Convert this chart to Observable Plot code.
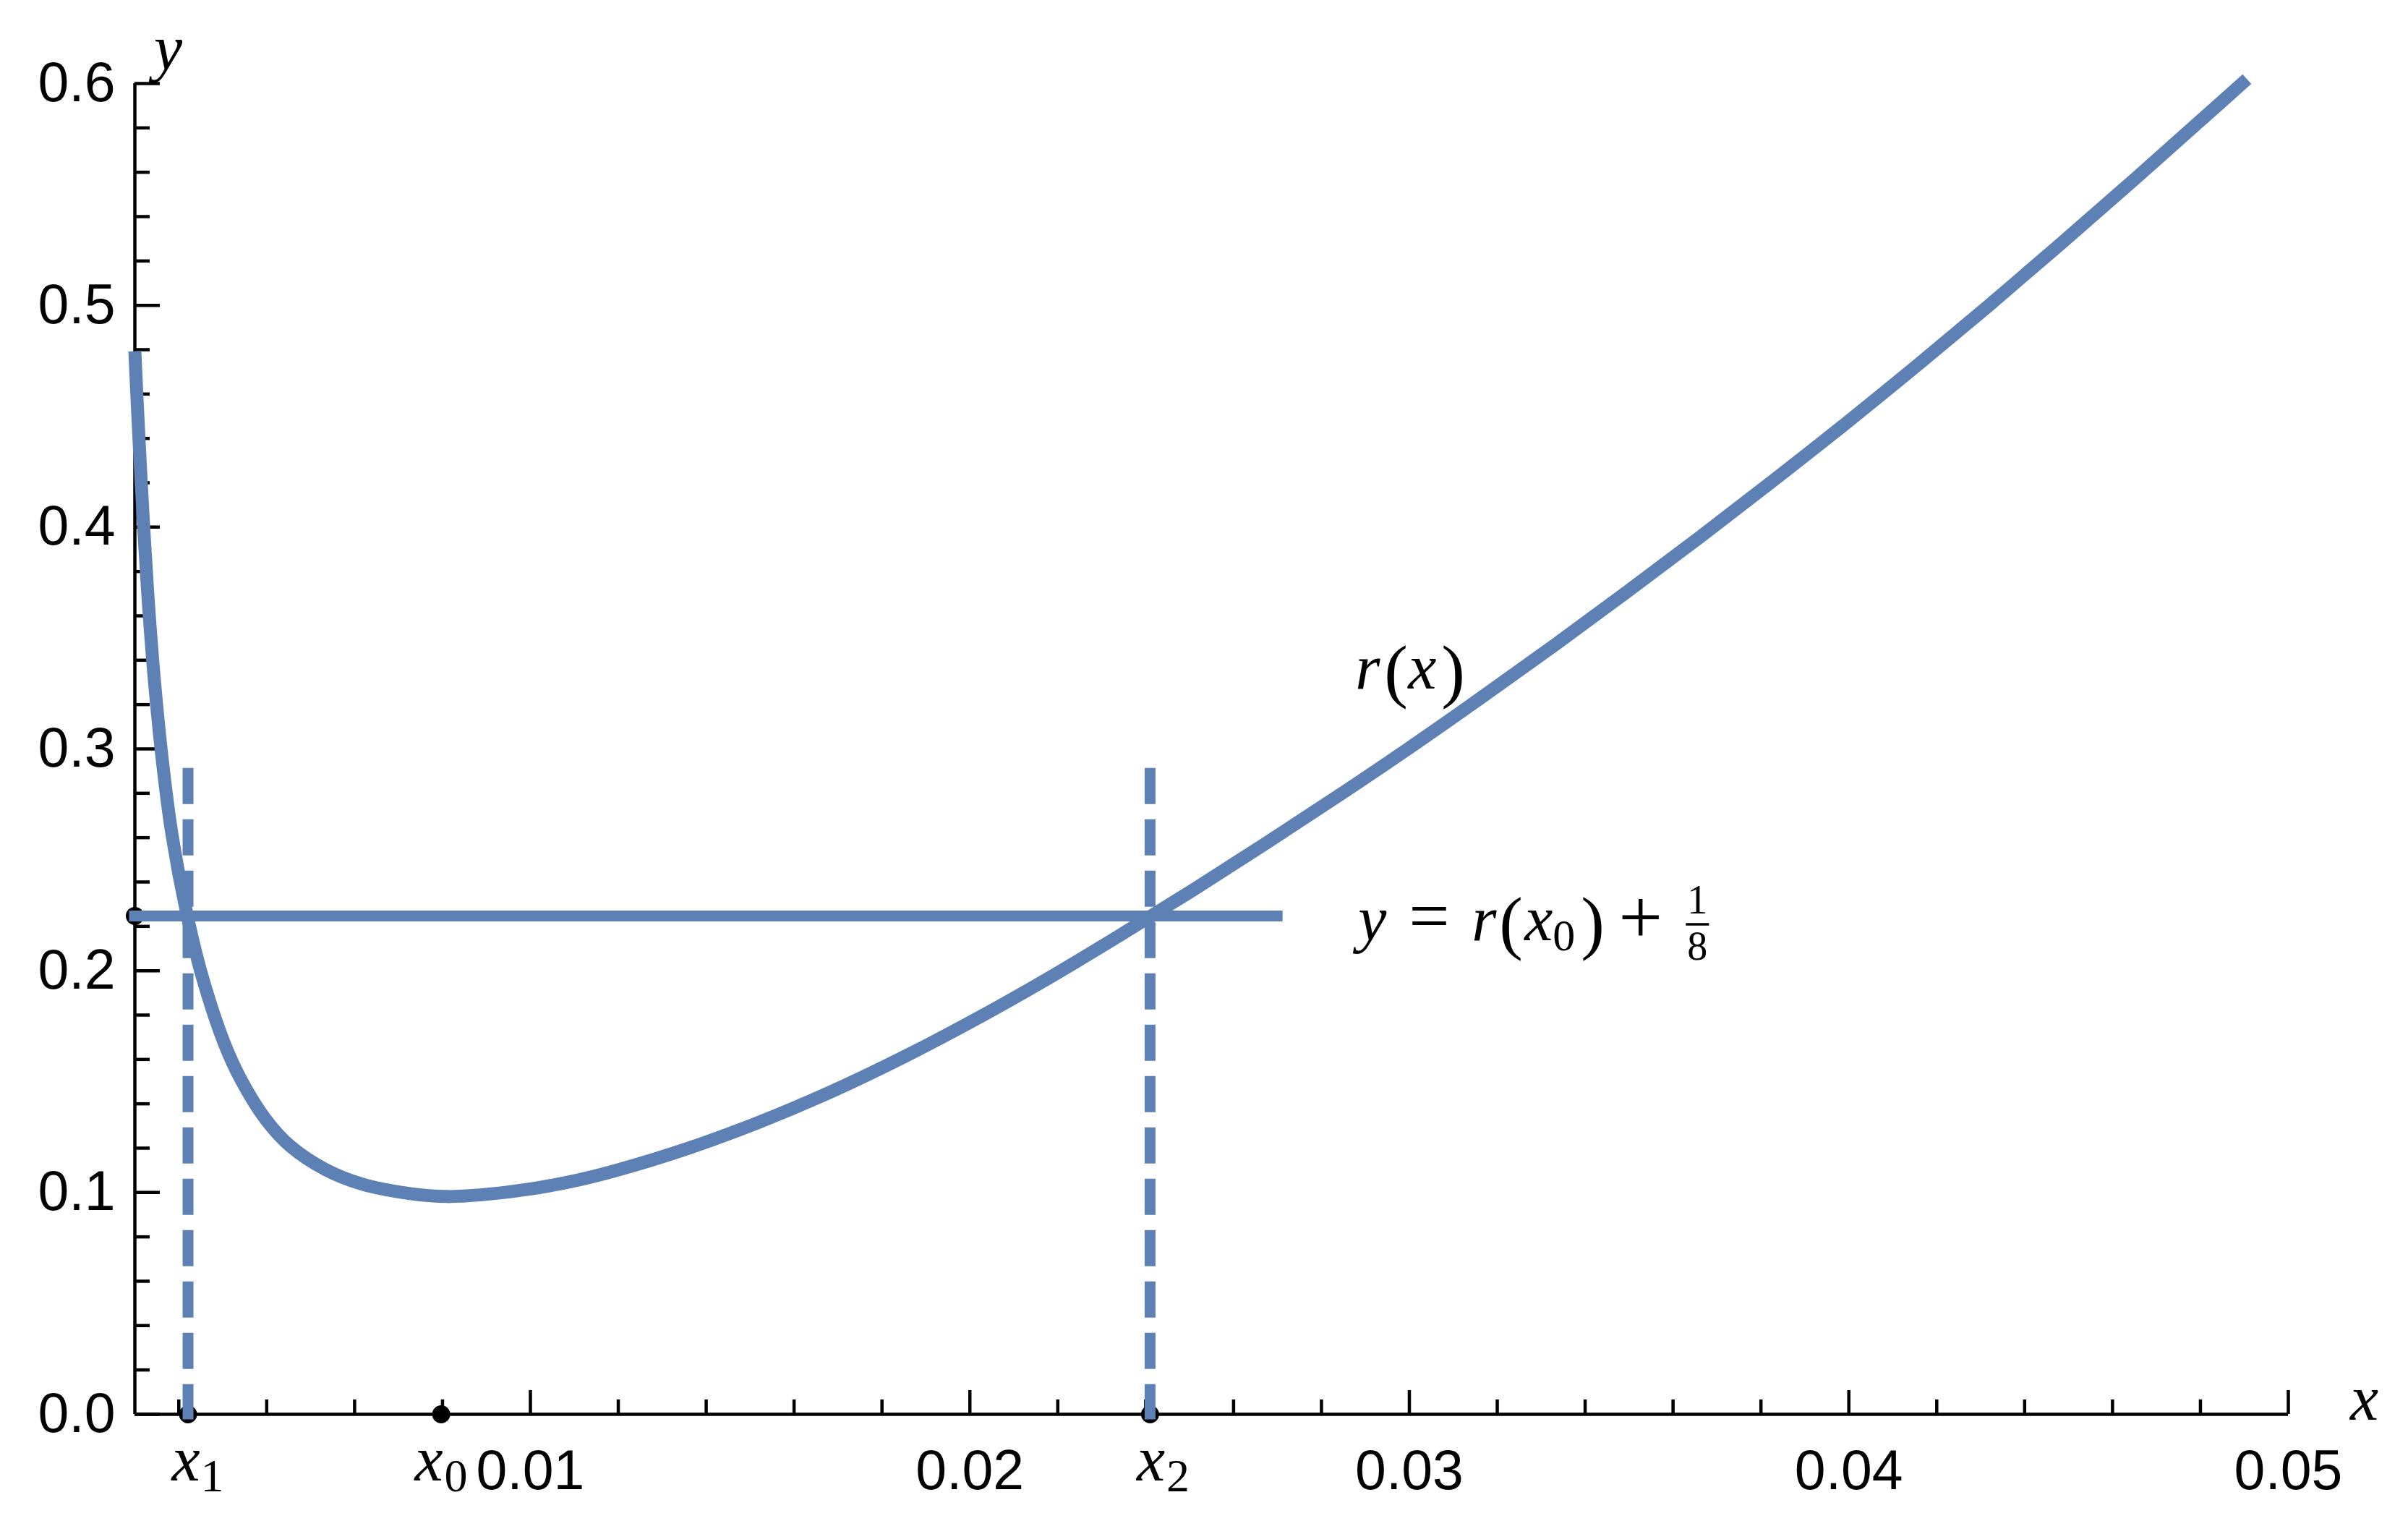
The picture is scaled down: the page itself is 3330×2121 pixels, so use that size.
<!DOCTYPE html>
<html>
<head>
<meta charset="utf-8">
<script src="https://cdn.jsdelivr.net/npm/d3@7"></script>
<script src="https://cdn.jsdelivr.net/npm/@observablehq/plot@0.6"></script>
<style>
  html, body { margin: 0; padding: 0; background: #ffffff; }
  svg { display: block; }
</style>
</head>
<body>
<div id="chart"></div>
<script>
// ---------------- data ----------------
const curveX = [0.0010000, 0.0010494, 0.0011448, 0.0012221, 0.0013274, 0.0014541, 0.0016236,
  0.0018358, 0.0021928, 0.0025301, 0.0030402, 0.0034235, 0.0039730, 0.0045209, 0.0053435,
  0.0061661, 0.0072635, 0.0080862, 0.0089089, 0.0100047, 0.0111021, 0.0119247, 0.0135700,
  0.0152152, 0.0168605, 0.0185058, 0.0201510, 0.0217963, 0.0234416, 0.0250869, 0.0267321,
  0.0283774, 0.0300227, 0.0316680, 0.0333133, 0.0349585, 0.0366038, 0.0382491, 0.0398944,
  0.0415396, 0.0431849, 0.0448302, 0.0464755, 0.0481207, 0.0490586];
const curveY = [0.4793, 0.4578, 0.4201, 0.3929, 0.3603, 0.3288, 0.2951,
  0.2625, 0.2247, 0.1975, 0.1670, 0.1506, 0.1331, 0.1212, 0.1103,
  0.1038, 0.0995, 0.0982, 0.0990, 0.1016, 0.1057, 0.1098, 0.1198,
  0.1318, 0.1456, 0.1612, 0.1783, 0.1967, 0.2163, 0.2365, 0.2574,
  0.2788, 0.3008, 0.3236, 0.3469, 0.3709, 0.3954, 0.4205, 0.4462,
  0.4727, 0.4999, 0.5279, 0.5564, 0.5854, 0.6020];

const xMin = 0.001;          // left end of the x axis
const xMax = 0.05;
const yMax = 0.6;
const x0 = 0.00797;          // location of the minimum
const x1 = 0.00221;          // left crossing
const x2 = 0.02410;          // right crossing
const level = 0.2247;        // y = r(x0) + 1/8
const levelEnd = 0.0270;     // right end of the horizontal line
const dashTop = 0.2888;      // top of the dashed verticals

const xMajorTicks = [0.01, 0.02, 0.03, 0.04, 0.05];
const xTickLabels = ["0.01", "0.02", "0.03", "0.04", "0.05"];
const xMinorTicks = [0.002, 0.004, 0.006, 0.008, 0.012, 0.014, 0.016, 0.018, 0.022, 0.024, 0.026, 0.028,
  0.032, 0.034, 0.036, 0.038, 0.042, 0.044, 0.046, 0.048];
const yMajorTicks = [0, 0.1, 0.2, 0.3, 0.4, 0.5, 0.6];
const yTickLabels = ["0.0", "0.1", "0.2", "0.3", "0.4", "0.5", "0.6"];
const yMinorTicks = [0.02, 0.04, 0.06, 0.08, 0.12, 0.14, 0.16, 0.18, 0.22, 0.24, 0.26, 0.28,
  0.32, 0.34, 0.36, 0.38, 0.42, 0.44, 0.46, 0.48, 0.52, 0.54, 0.56, 0.58];

// ---------------- layout / style ----------------
const W = 3330, H = 2121;
const mL = 186, mR = 166, mT = 115, mB = 166;
const innerW = W - mL - mR, innerH = H - mT - mB;
const BLUE = "#5E81B5";
const SANS = "'Liberation Sans', Arial, Helvetica, sans-serif";
const SERIF = "'Liberation Serif', 'Times New Roman', 'DejaVu Serif', serif";
const AXW = 4.5;

const curve = curveX.map((x, i) => ({x, y: curveY[i]}));
const points = [
  {x: x1, y: 0}, {x: x0, y: 0}, {x: x2, y: 0}, {x: xMin, y: level}
];

const plot = Plot.plot({
  width: W, height: H,
  marginLeft: mL, marginRight: mR, marginTop: mT, marginBottom: mB,
  x: {domain: [xMin, xMax], axis: null},
  y: {domain: [0, yMax], axis: null},
  style: {background: "#ffffff", overflow: "visible"},
  marks: [
    // axis lines
    Plot.ruleY([0], {x1: () => xMin, x2: () => xMax, stroke: "black", strokeWidth: AXW}),
    Plot.ruleX([xMin], {y1: () => 0, y2: () => yMax, stroke: "black", strokeWidth: AXW}),
    // inward ticks
    Plot.tickX(xMajorTicks, {x: d => d, insetTop: innerH - 33, stroke: "black", strokeWidth: AXW}),
    Plot.tickX(xMinorTicks, {x: d => d, insetTop: innerH - 20, stroke: "black", strokeWidth: AXW}),
    Plot.tickY(yMajorTicks, {y: d => d, insetRight: innerW - 35, stroke: "black", strokeWidth: AXW}),
    Plot.tickY(yMinorTicks, {y: d => d, insetRight: innerW - 21, stroke: "black", strokeWidth: AXW}),
    // tick labels
    Plot.text(xMajorTicks, {x: d => d, y: () => 0, text: (d, i) => xTickLabels[i],
      dy: 103, lineAnchor: "bottom", textAnchor: "middle", fontSize: 77, fontFamily: SANS, fill: "black"}),
    Plot.text(yMajorTicks, {x: () => xMin, y: d => d, text: (d, i) => yTickLabels[i],
      dx: -27, lineAnchor: "middle", textAnchor: "end", fontSize: 77, fontFamily: SANS, fill: "black"}),
    // marked points
    Plot.dot(points, {x: "x", y: "y", r: 12.5, fill: "black", stroke: "none"}),
    // r(x)
    Plot.line(curve, {x: "x", y: "y", stroke: BLUE, strokeWidth: 18, curve: "catmull-rom",
      strokeLinecap: "butt", strokeLinejoin: "round"}),
    // horizontal level line
    Plot.ruleY([level], {x1: () => xMin, x2: () => levelEnd, stroke: BLUE, strokeWidth: 15,
      strokeLinecap: "square"}),
    // dashed verticals at x1 and x2
    Plot.ruleX([x1, x2], {x: d => d, y1: () => dashTop, y2: () => 0, stroke: BLUE, strokeWidth: 15,
      strokeDasharray: "35,36", strokeLinecap: "square"})
  ]
});

// ---------------- math annotations (real text, anchored through the scales) ----------------
const sx = v => plot.scale("x").apply(v);
const sy = v => plot.scale("y").apply(v);
const svg = d3.select(plot);
const g = svg.append("g").attr("font-family", SERIF).attr("fill", "black");

// one <text> per label; each part is a tspan with its own offset, size and style
function label(px, py, parts) {
  const t = g.append("text");
  for (const p of parts) {
    t.append("tspan")
      .attr("x", px + p.dx).attr("y", py + (p.dy || 0))
      .attr("font-size", p.size || 88)
      .attr("font-style", p.italic ? "italic" : "normal")
      .attr("text-anchor", p.anchor || "start")
      .text(p.t);
  }
  return t;
}

// axis names
label(sx(xMin), sy(yMax), [{t: "y", italic: true, dx: 27, dy: -19}]);
label(sx(xMax), sy(0), [{t: "x", italic: true, dx: 86, dy: 8}]);

// x1, x0, x2 labels under the axis
function subLabel(xv, main, sub, dxMain, dxSub) {
  label(sx(xv), sy(0), [
    {t: main, italic: true, dx: dxMain, dy: 92},
    {t: sub, size: 64, dx: dxSub, dy: 107}
  ]);
}
subLabel(x1, "x", "1", -22, 18);
subLabel(x0, "x", "0", -36, 5);
subLabel(x2, "x", "2", -18, 23);

// r(x) label
label(sx(0.02878), sy(0.3271), [
  {t: "r", italic: true, dx: 0},
  {t: "(", size: 98, dx: 40, dy: 8},
  {t: "x", italic: true, dx: 73},
  {t: ")", size: 98, dx: 119, dy: 8}
]);

// y = r(x0) + 1/8 label
{
  const px = sx(0.02878), py = sy(0.2136);
  label(px, py, [
    {t: "y", italic: true, dx: 4},
    {t: "=", size: 100, dx: 74},
    {t: "r", italic: true, dx: 161},
    {t: "(", size: 98, dx: 199, dy: 8},
    {t: "x", italic: true, dx: 234},
    {t: "0", size: 62, dx: 273, dy: 14},
    {t: ")", size: 98, dx: 312, dy: 8},
    {t: "+", size: 108, dx: 364, dy: 4}
  ]);
  // stacked fraction 1/8
  label(px, py, [{t: "1", size: 56, dx: 473, dy: -37, anchor: "middle"}]);
  label(px, py, [{t: "8", size: 56, dx: 473, dy: 27, anchor: "middle"}]);
  g.append("line").attr("x1", px + 457).attr("x2", px + 489)
    .attr("y1", py - 22).attr("y2", py - 22)
    .attr("stroke", "black").attr("stroke-width", 3.5);
}

document.getElementById("chart").appendChild(plot);
</script>
</body>
</html>
